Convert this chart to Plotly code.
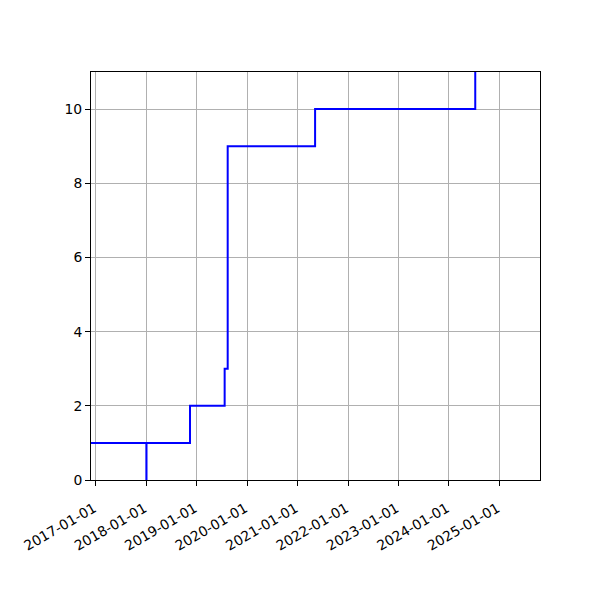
import plotly.graph_objects as go

# step change dates and the value that holds from each date onward
dates = ["2016-11-26", "2018-01-01", "2018-01-02", "2018-11-13", "2019-07-22",
         "2019-08-13", "2021-05-07", "2024-07-10", "2025-10-22"]
values = [1, 0, 1, 2, 3, 9, 10, 12, 12]

x_ticks = ["2017-01-01", "2018-01-01", "2019-01-01", "2020-01-01", "2021-01-01",
           "2022-01-01", "2023-01-01", "2024-01-01", "2025-01-01"]
y_ticks = [0, 2, 4, 6, 8, 10]

fig = go.Figure(go.Scatter(
    x=dates, y=values, mode="lines", line_shape="hv",
    line=dict(color="#0000ff", width=2), showlegend=False,
))

axis_common = dict(
    showline=True, linecolor="black", linewidth=1, mirror=True,
    ticks="outside", ticklen=5, tickwidth=1, tickcolor="black",
    showgrid=True, gridcolor="#b0b0b0", gridwidth=1.1,
    zeroline=False,
    tickfont=dict(family="DejaVu Sans", size=13.9, color="black"),
)

fig.update_xaxes(
    type="date", range=["2016-11-26", "2025-10-22"],
    tickvals=x_ticks, ticktext=x_ticks, tickangle=-30,
    ticklabelshift=-2, ticklabelstandoff=9,
    **axis_common,
)
fig.update_yaxes(
    range=[0, 11], tickvals=y_ticks, ticktext=[str(v) for v in y_ticks],
    **axis_common,
)

fig.update_layout(
    width=600, height=600,
    margin=dict(l=83, r=68, t=64, b=128),
    plot_bgcolor="white", paper_bgcolor="white",
)

fig.write_html("out.html")
